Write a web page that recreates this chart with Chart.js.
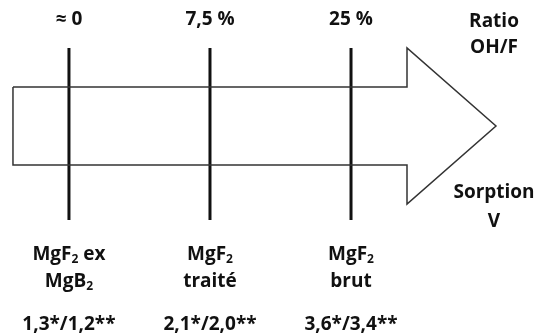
<html>
<head>
<script src="https://cdn.jsdelivr.net/npm/chart.js"></script>
<style>
  body { margin: 0; background: #fff; }
  #wrap { width: 539px; height: 335px; }
</style>
</head>
<body>
<div id="wrap"><canvas id="myChart" width="539" height="335"></canvas></div>
<script>
// samples along the arrow (x = sample index)
const samplePos = [0, 1, 2];
const ratioLabels = ['≈ 0', '7,5 %', '25 %'];
const sampleNames = [['MgF_2 ex', 'MgB_2'], ['MgF_2', 'traité'], ['MgF_2', 'brut']];
const sorptionValues = ['1,3*/1,2**', '2,1*/2,0**', '3,6*/3,4**'];

// arrow outline (x in sample units, y: body +-0.5, head +-1)
const arrowX = [-0.397, 2.397, 2.397, 3.028, 2.397, 2.397, -0.397, -0.397];
const arrowY = [0.5, 0.5, 1, 0, -1, -0.5, -0.5, 0.5];
const markTop = 1.0;
const markBottom = -1.205;

const axisTitles = [
  { lines: ['Ratio', 'OH/F'], x: 3.014, y: [1.333, 1.0] },
  { lines: ['Sorption', 'V'], x: 3.014, y: [-0.859, -1.231] }
];

const arrowData = arrowX.map((x, i) => ({ x: x, y: arrowY[i] }));
const markDatasets = samplePos.map(p => ({
  data: [{ x: p, y: markTop }, { x: p, y: markBottom }],
  borderColor: '#111',
  borderWidth: 3,
  pointRadius: 0,
  showLine: true
}));

const FONT = '"Open Sans"';
const SIZE = 19;

// draw text with "_2" as subscript, centred on cx
function drawRich(ctx, str, cx, cy) {
  const parts = [];
  const re = /_(\d)/g;
  let last = 0, m;
  while ((m = re.exec(str)) !== null) {
    if (m.index > last) parts.push({ t: str.slice(last, m.index), sub: false });
    parts.push({ t: m[1], sub: true });
    last = re.lastIndex;
  }
  if (last < str.length) parts.push({ t: str.slice(last), sub: false });
  let total = 0;
  parts.forEach(p => {
    ctx.font = 'bold ' + (p.sub ? Math.round(SIZE * 0.65) : SIZE) + 'px ' + FONT;
    p.w = ctx.measureText(p.t).width;
    total += p.w;
  });
  let x = cx - total / 2;
  ctx.textAlign = 'left';
  ctx.textBaseline = 'middle';
  parts.forEach(p => {
    ctx.font = 'bold ' + (p.sub ? Math.round(SIZE * 0.65) : SIZE) + 'px ' + FONT;
    ctx.fillText(p.t, x, cy + (p.sub ? 5 : 0));
    x += p.w;
  });
}

const labelPlugin = {
  id: 'labels',
  afterDatasetsDraw(chart) {
    const ctx = chart.ctx;
    const xs = chart.scales.x, ys = chart.scales.y;
    ctx.save();
    ctx.fillStyle = '#111';
    samplePos.forEach((p, i) => {
      const px = xs.getPixelForValue(p);
      drawRich(ctx, ratioLabels[i], px, ys.getPixelForValue(1.359));
      drawRich(ctx, sampleNames[i][0], px, ys.getPixelForValue(-1.654));
      drawRich(ctx, sampleNames[i][1], px, ys.getPixelForValue(-2.0));
      drawRich(ctx, sorptionValues[i], px, ys.getPixelForValue(-2.54));
    });
    axisTitles.forEach(t => {
      t.lines.forEach((l, j) => {
        drawRich(ctx, l, xs.getPixelForValue(t.x), ys.getPixelForValue(t.y[j]));
      });
    });
    ctx.restore();
  }
};

const config = {
  type: 'scatter',
  data: {
    datasets: [{
      data: arrowData,
      borderColor: '#333',
      borderWidth: 1.5,
      pointRadius: 0,
      showLine: true,
      tension: 0
    }].concat(markDatasets)
  },
  options: {
    responsive: false,
    animation: false,
    layout: { padding: 0 },
    plugins: { legend: { display: false }, tooltip: { enabled: false } },
    scales: {
      x: { type: 'linear', min: -0.489, max: 3.333, display: false },
      y: { type: 'linear', min: -2.679, max: 1.615, display: false }
    }
  },
  plugins: [labelPlugin]
};

new Chart(document.getElementById('myChart'), config);
</script>
</body>
</html>
